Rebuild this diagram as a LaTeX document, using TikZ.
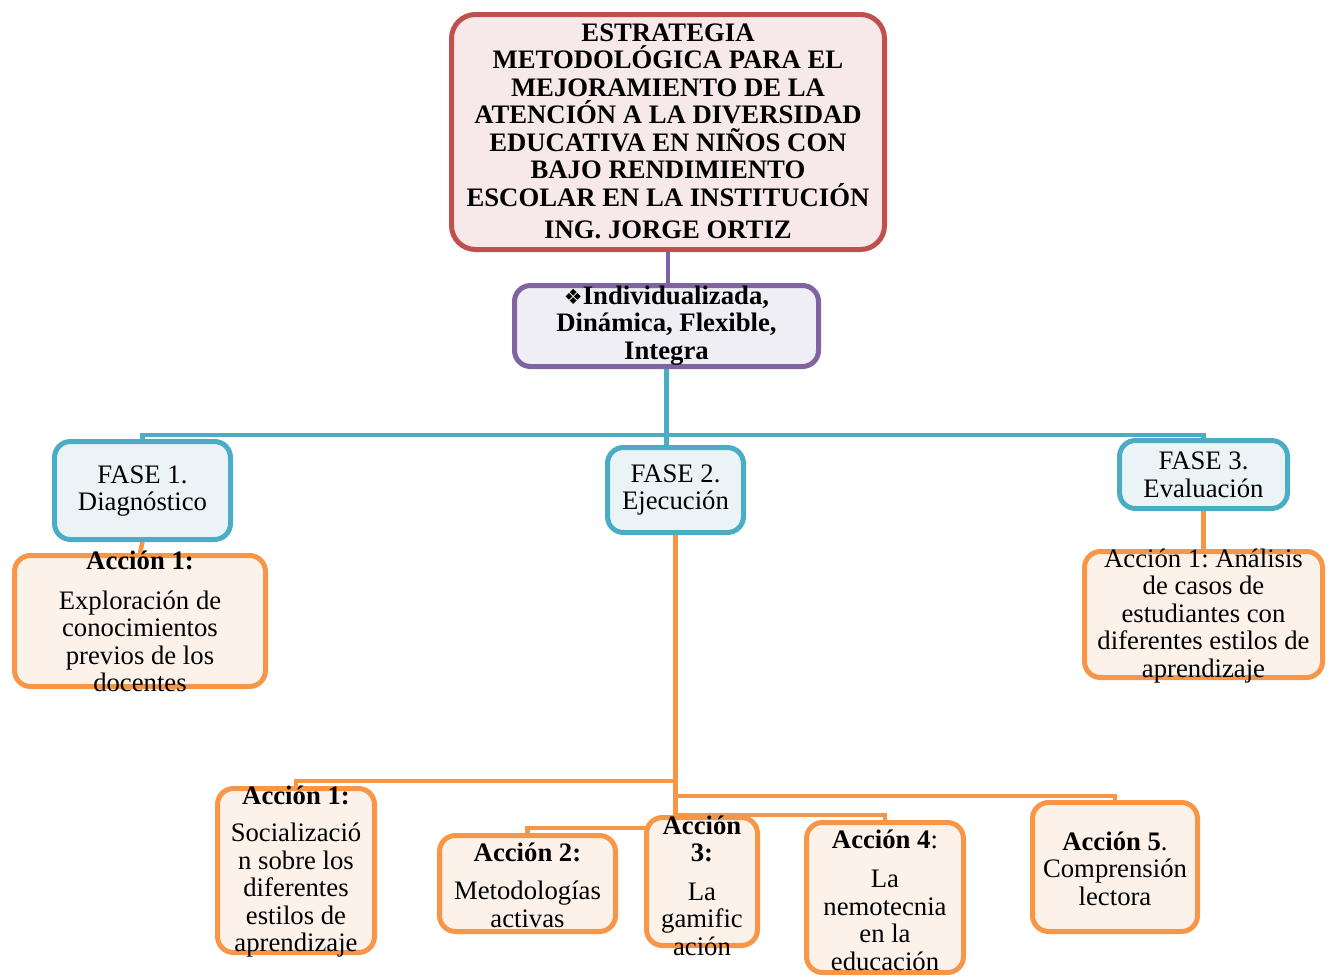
\documentclass[tikz,border=0pt]{standalone}
\usepackage{fontspec}
\setmainfont{Liberation Serif}
\newfontfamily\dejavu{DejaVu Sans}
\usetikzlibrary{backgrounds}
\frenchspacing
\definecolor{rojo}{HTML}{C0504D}   \definecolor{rojof}{HTML}{F7E9E9}
\definecolor{lila}{HTML}{8064A2}   \definecolor{lilaf}{HTML}{F0EEF5}
\definecolor{azul}{HTML}{4BACC6}   \definecolor{azulf}{HTML}{EAF4F7}
\definecolor{naranja}{HTML}{F79646}\definecolor{naranjaf}{HTML}{FDF2EA}
\begin{document}
\begin{tikzpicture}[x=1pt,y=-1pt,line join=round,line cap=round,
  font=\fontsize{26.7}{27.5}\selectfont,
  caja/.style={draw,line width=5pt,inner sep=0pt,rounded corners=16pt},
  roja/.style={caja,draw=rojo,fill=rojof,rounded corners=24pt},
  morada/.style={caja,draw=lila,fill=lilaf},
  fase/.style={caja,draw=azul,fill=azulf},
  accion/.style={caja,draw=naranja,fill=naranjaf},
  txt/.style={align=center,inner sep=0pt},
  linea/.style={line width=4.5pt,line cap=butt}]
\useasboundingbox (0,0) rectangle (1334,977);
% cajas
\node[roja,minimum width=433,minimum height=235] (tit) at (668,132) {};
\node[txt,font=\fontsize{26.7}{27.5}\selectfont\bfseries] (tittxt) at (668,131.5)
  {ESTRATEGIA\\ METODOLÓGICA PARA EL\\ MEJORAMIENTO DE LA\\ ATENCIÓN A LA DIVERSIDAD\\
   EDUCATIVA EN NIÑOS CON\\ BAJO RENDIMIENTO\\ ESCOLAR EN LA INSTITUCIÓN\\[5pt] ING. JORGE ORTIZ};
\node[morada,minimum width=304,minimum height=81] (car) at (666.5,326) {};
\node[txt,font=\fontsize{26.7}{27.5}\selectfont\bfseries] (cartxt) at (666.5,325.5)
  {{\dejavu\fontsize{21}{21}\selectfont ❖}Individualizada,\\ Dinámica, Flexible,\\ Integra};
\node[fase,minimum width=176,minimum height=98] (f1) at (142.5,490.5) {};
\node[txt] (f1txt) at (142.5,491) {FASE 1.\\ Diagnóstico};
\node[fase,minimum width=136,minimum height=85] (f2) at (675.5,490) {};
\node[txt] (f2txt) at (675.5,490) {FASE 2.\\ Ejecución};
\node[fase,minimum width=168,minimum height=68] (f3) at (1203.5,474.5) {};
\node[txt] (f3txt) at (1203.5,475) {FASE 3.\\ Evaluación};
\node[accion,minimum width=251,minimum height=131] (a11) at (140,621) {};
\node[txt] (a11txt) at (140,621.5) {\textbf{Acción 1:}\\[12pt] Exploración de\\ conocimientos\\ previos de los\\ docentes};
\node[accion,minimum width=238,minimum height=126] (a31) at (1203.5,614.5) {};
\node[txt] (a31txt) at (1203.5,616) {Acción 1: Análisis\\ de casos de\\ estudiantes con\\ diferentes estilos de\\ aprendizaje};
\node[accion,minimum width=157,minimum height=164] (a21) at (296,870.5) {};
\node[txt] (a21txt) at (296,871.5) {\textbf{Acción 1:}\\[10pt] Socializació\\ n sobre los\\ diferentes\\ estilos de\\ aprendizaje};
\node[accion,minimum width=176,minimum height=96] (a22) at (527.5,883.5) {};
\node[txt] (a22txt) at (527.5,885) {\textbf{Acción 2:}\\[11pt] Metodologías\\ activas};
\node[accion,minimum width=111,minimum height=128] (a23) at (702,881.5) {};
\node[txt] (a23txt) at (702,885.5) {\textbf{Acción}\\ \textbf{3:}\\[11pt] La\\ gamific\\ ación};
\node[accion,minimum width=157,minimum height=150] (a24) at (885,897.5) {};
\node[txt] (a24txt) at (885,900) {\textbf{Acción 4}:\\[12pt] La\\ nemotecnia\\ en la\\ educación};
\node[accion,minimum width=165,minimum height=129] (a25) at (1115,867) {};
\node[txt] (a25txt) at (1115,868.5) {\textbf{Acción 5}.\\ Comprensión\\ lectora};
% conectores
\coordinate (bus) at (0,435);
\coordinate (r1) at (0,781); \coordinate (r5) at (0,796);
\coordinate (r4) at (0,815); \coordinate (r2) at (0,828);
\begin{pgfonlayer}{background}
\draw[linea,lila] (tit.south) -- (tit.south |- car.north);
\draw[linea,azul] (car.south) -- (car.south |- f2.north);
\draw[linea,azul] (f1.north) -- (f1.north |- bus) -- (f3.north |- bus) -- (f3.north);
\draw[linea,naranja] (f1.south) -- (a11.north);
\draw[linea,naranja] (f3.south) -- (a31.north);
\draw[linea,naranja] (f2.south) -- (f2.south |- r2);
\draw[linea,naranja] (f2.south |- r1) -- (a21.north |- r1) -- (a21.north);
\draw[linea,naranja] (f2.south |- r5) -- (a25.north |- r5) -- (a25.north);
\draw[linea,naranja] (f2.south |- r4) -- (a24.north |- r4) -- (a24.north);
\draw[linea,naranja] (f2.south |- r2) -- (a22.north |- r2) -- (a22.north);
\end{pgfonlayer}
\end{tikzpicture}
\end{document}
